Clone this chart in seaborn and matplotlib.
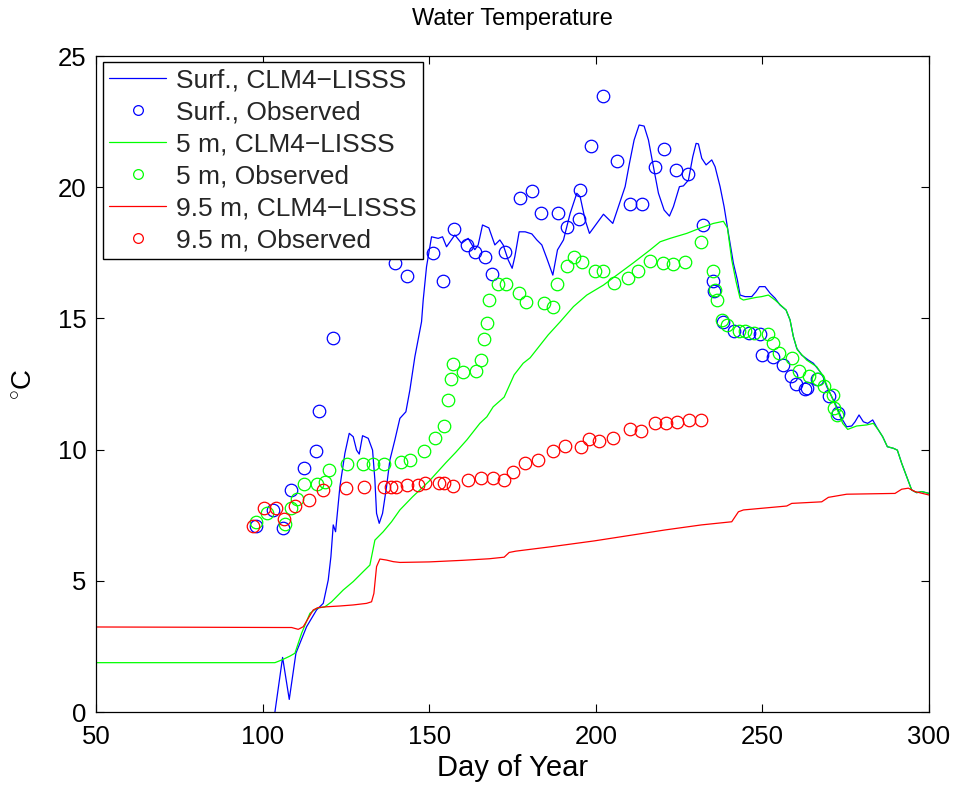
import matplotlib
matplotlib.use("Agg")
import matplotlib.pyplot as plt
import seaborn as sns
import pandas as pd

# ---------------- data ----------------
# Surface, model (CLM4-LISSS)
surf_mod_day = [103, 103.7, 106, 108, 110, 113.2, 116.2, 118.2, 119.7, 120.5, 121.2, 121.9,
                123.2, 124.7, 126, 127.2, 128.2, 129, 130, 131.7, 133, 133.7, 134.2, 135, 136,
                137.2, 138.2, 139.7, 141.2, 143, 144.2, 145.7, 147.7, 148.2, 149.2, 150.7,
                152.7, 154, 155.2, 157.7, 159.7, 161.7, 163.7, 164.7, 166, 167.9, 169.7,
                171.2, 172.2, 173.7, 174.9, 175.7, 177, 178.8, 180.8, 182.3, 183.8, 185.3,
                187.1, 188.5, 190.3, 192.3, 194.3, 195.3, 196.8, 198.1, 200.3, 202.3, 205.1,
                206.8, 208.8, 210.1, 211.5, 213, 214.5, 215.8, 217.1, 218.8, 220.5, 222.1,
                223.3, 225.1, 226.3, 227.8, 229.1, 230.1, 230.8, 231.8, 233.1, 234.8, 235.8,
                237.3, 238.5, 239.8, 241.3, 242.5, 243.3, 244.8, 246.8, 248.1, 249.1, 250.8,
                252.3, 253.8, 255.3, 257.1, 258.3, 259.3, 260.3, 261.8, 263.8, 265.3, 267.3,
                268.3, 269.3, 270.8, 272.3, 273.8, 275.3, 276.8, 277.8, 279, 280.3, 281.6,
                283.1, 284.5, 286.1, 287.5, 289.3, 290.5, 291.8, 293.3, 294.8, 296.3, 297.8,
                300]
surf_mod_temp = [-1.0, 0.0, 2.08, 0.48, 2.24, 3.25, 3.89, 4.14, 5.03, 5.92, 7.13, 6.87,
                 8.59, 9.86, 10.62, 10.49, 9.98, 9.83, 10.53, 10.43, 9.98, 8.84, 7.57, 7.19, 7.57,
                 8.59, 9.6, 10.37, 11.19, 11.44, 12.27, 13.54, 14.87, 15.7, 16.97, 18.11,
                 18.05, 18.11, 17.73, 18.18, 17.86, 18.05, 17.62, 17.8, 18.56, 18.45, 17.8,
                 17.99, 17.8, 17.23, 16.91, 17.35, 18.3, 18.3, 18.22, 17.99, 17.8, 17.29,
                 16.65, 17.61, 17.99, 19.0, 19.77, 19.64, 18.75, 18.24, 18.62, 18.97, 18.62,
                 19.26, 20.02, 20.91, 21.8, 22.37, 22.33, 21.8, 20.91, 19.77, 19.13, 18.9,
                 19.26, 20.02, 20.05, 20.27, 21.16, 21.67, 21.65, 21.1, 20.85, 21.04, 20.78,
                 20.02, 19.26, 18.24, 17.1, 16.46, 15.89, 15.83, 15.83, 16.02, 16.21, 16.21,
                 15.96, 15.77, 15.51, 15.32, 14.94, 14.3, 13.86, 13.6, 13.41, 13.29, 12.97,
                 12.78, 12.4, 12.02, 11.63, 11.19, 10.87, 10.9, 11.06, 11.32, 11.06, 11.0,
                 11.13, 10.81, 10.49, 10.11, 10.05, 9.98, 9.48, 8.97, 8.46, 8.36, 8.4,
                 8.33]

# Surface, observed
surf_obs_day = [98, 103, 106, 108.5, 112.4, 115.9, 116.8, 121.2, 139.7, 143.2, 151.2, 154.2,
                157.5, 161.2, 163.7, 166.6, 168.8, 172.8, 177.3, 180.9, 183.6, 188.8, 191.3,
                195, 195.3, 198.5, 202.1, 206.3, 210.3, 213.9, 217.8, 220.6, 224, 227.6,
                232.2, 235.1, 235.5, 238.1, 241.5, 246.1, 249.3, 249.8, 253.1, 256.3, 258.5,
                260.1, 262.8, 263.5, 266.3, 270.1, 272.8]
surf_obs_temp = [7.09, 7.7, 7.02, 8.46, 9.31, 9.96, 11.46, 14.26, 17.12, 16.6, 17.48, 16.44,
                 18.39, 17.8, 17.52, 17.33, 16.68, 17.54, 19.6, 19.87, 19.0, 19.0, 18.49,
                 18.8, 19.89, 21.57, 23.46, 20.98, 19.35, 19.35, 20.78, 21.44, 20.66, 20.51,
                 18.57, 16.43, 16.06, 14.87, 14.53, 14.46, 14.39, 13.62, 13.54, 13.22, 12.8,
                 12.5, 12.3, 12.36, 12.69, 12.04, 11.38]

# 5 m, model
m5_mod_day = [50, 80, 103.7, 105.7, 108.2, 109.7, 111.7, 114.2, 116.2, 118.7, 120.7, 124.2,
              127.2, 130.2, 132.2, 133.7, 136.2, 138.7, 141.2, 145, 150, 155, 158, 161.3,
              165.2, 167.3, 169.2, 172.5, 175.5, 178.2, 180.3, 185.7, 189.3, 193.3, 197.3,
              202.3, 206.3, 211.3, 216.3, 219.3, 222.3, 227.3, 231.5, 235.3, 238.3, 239.5,
              240.8, 242.1, 243.3, 244.3, 248.1, 249.8, 251.8, 253.8, 257.1, 258.3, 259.3,
              260.5, 263.3, 266.3, 268.3, 270.3, 272.3, 274.1, 275.6, 278.3, 281.3, 283.3,
              284.8, 286.1, 287.5, 289.3, 290.5, 291.8, 293.3, 294.8, 296.3, 297.8, 300]
m5_mod_temp = [1.88, 1.88, 1.88, 1.98, 2.13, 2.24, 3.0, 3.76, 3.95, 4.01, 4.2, 4.65,
               4.97, 5.35, 5.6, 6.55, 6.87, 7.25, 7.7, 8.2, 8.8, 9.5, 9.9, 10.37,
               11.0, 11.25, 11.63, 12.0, 12.85, 13.29, 13.5, 14.37, 14.87, 15.45, 15.89,
               16.27, 16.65, 17.12, 17.61, 17.92, 18.05, 18.24, 18.45, 18.62, 18.7, 18.45,
               17.23, 16.4, 15.77, 15.7, 15.8, 15.83, 15.89, 15.7, 15.32, 14.94, 14.3,
               13.8, 13.41, 13.16, 12.78, 12.15, 11.57, 11.0, 10.77, 10.9, 10.94, 11.0,
               10.75, 10.49, 10.11, 10.05, 9.98, 9.48, 8.97, 8.46, 8.36, 8.4, 8.33]

# 5 m, observed
m5_obs_day = [98, 101.2, 106.7, 108.4, 110.2, 112.5, 116.2, 118.7, 119.9, 125.4, 130, 133,
              136.3, 141.5, 144.3, 148.3, 151.6, 154.3, 155.6, 156.5, 157.2, 160.2, 163.9,
              165.4, 166.4, 167.2, 168, 170.6, 173.1, 176.9, 179.2, 184.4, 187.2, 188.3,
              191.3, 193.5, 195.8, 199.8, 202.3, 205.6, 209.8, 212.6, 216.3, 220.3, 223.3,
              226.8, 231.5, 235.1, 235.8, 236.3, 238, 239.3, 243.1, 244.8, 247.5, 251.8,
              253.3, 255, 258.8, 261.1, 264, 266.6, 268.6, 271.1, 271.5, 272.5]
m5_obs_temp = [7.25, 7.57, 7.16, 7.76, 8.12, 8.68, 8.69, 8.78, 9.22, 9.45, 9.45, 9.45,
               9.45, 9.54, 9.6, 9.95, 10.46, 10.91, 11.89, 12.68, 13.26, 12.94, 13.0,
               13.41, 14.2, 14.84, 15.7, 16.3, 16.3, 15.95, 15.64, 15.58, 15.45, 16.3,
               17.01, 17.35, 17.16, 16.82, 16.82, 16.36, 16.55, 16.82, 17.2, 17.1, 17.08,
               17.15, 17.92, 16.82, 16.1, 15.7, 14.94, 14.75, 14.52, 14.52, 14.43, 14.41,
               14.05, 13.67, 13.48, 13.0, 12.8, 12.68, 12.42, 12.08, 11.57, 11.32]

# 9.5 m, model
m95_mod_day = [50, 80, 106.2, 108.7, 110.7, 112.2, 113.7, 115.2, 116.7, 119.2, 123.2, 127.2,
               131.2, 132.7, 133.4, 134.2, 135.2, 137.2, 139.2, 141.2, 150, 160, 168, 172.5,
               174, 176, 186.7, 199.5, 210.2, 220.9, 231.7, 240.8, 242.8, 244.3, 257.3,
               258.8, 267.8, 269.8, 275.3, 289.8, 291.8, 293.8, 295.8, 300]
m95_mod_temp = [3.24, 3.23, 3.22, 3.22, 3.15, 3.25, 3.57, 3.89, 3.98, 4.01, 4.04, 4.08,
                4.14, 4.2, 4.52, 5.54, 5.83, 5.79, 5.73, 5.7, 5.72, 5.78, 5.84, 5.9,
                6.08, 6.13, 6.3, 6.52, 6.73, 6.94, 7.13, 7.25, 7.63, 7.7, 7.85,
                7.95, 8.01, 8.18, 8.3, 8.33, 8.49, 8.53, 8.4, 8.27]

# 9.5 m, observed
m95_obs_day = [97.2, 100.4, 103.9, 106.5, 109.7, 113.9, 118, 125, 130.4, 136.3, 138.4, 140,
               143.3, 146.5, 148.6, 152.9, 154.5, 157.2, 161.5, 165.5, 169, 172.5, 175.2,
               178.7, 182.7, 187.3, 190.9, 195.6, 197.9, 201.1, 205.1, 210.2, 213.7, 217.7,
               221, 224.4, 227.9, 231.5]
m95_obs_temp = [7.09, 7.76, 7.76, 7.34, 7.85, 8.08, 8.46, 8.52, 8.59, 8.59, 8.59, 8.59,
                8.65, 8.65, 8.72, 8.72, 8.72, 8.62, 8.84, 8.91, 8.91, 8.84, 9.16,
                9.48, 9.6, 9.95, 10.14, 10.11, 10.4, 10.33, 10.45, 10.79, 10.71, 11.0,
                11.0, 11.06, 11.13, 11.13]

labels = ["Surf., CLM4\u2212LISSS", "Surf., Observed",
          "5 m, CLM4\u2212LISSS", "5 m, Observed",
          "9.5 m, CLM4\u2212LISSS", "9.5 m, Observed"]
x_ticks = [50, 100, 150, 200, 250, 300]
y_ticks = [0, 5, 10, 15, 20, 25]

# ---------------- plot ----------------
sns.set_theme(style="white")
plt.rcParams['font.family'] = ['Liberation Sans', 'DejaVu Sans']
plt.rcParams['mathtext.fontset'] = 'custom'
plt.rcParams['mathtext.rm'] = 'Liberation Sans'

fig = plt.figure(figsize=(9.6, 7.85), dpi=100)
ax = fig.add_axes([96 / 960, 73 / 785, 833 / 960, 656 / 785])

series = [
    (surf_mod_day, surf_mod_temp, "#0000ff", True),
    (surf_obs_day, surf_obs_temp, "#0000ff", False),
    (m5_mod_day, m5_mod_temp, "#00ff00", True),
    (m5_obs_day, m5_obs_temp, "#00ff00", False),
    (m95_mod_day, m95_mod_temp, "#ff0000", True),
    (m95_obs_day, m95_obs_temp, "#ff0000", False),
]

for (d, t, c, is_line), lab in zip(series, labels):
    df = pd.DataFrame({"day": d, "temp": t})
    if is_line:
        sns.lineplot(data=df, x="day", y="temp", ax=ax, color=c, lw=0.9,
                     estimator=None, sort=False, label=lab)
    else:
        sns.lineplot(data=df, x="day", y="temp", ax=ax, color=c, linestyle="none",
                     marker="o", markersize=9, markerfacecolor="none",
                     markeredgecolor=c, markeredgewidth=0.9,
                     estimator=None, sort=False, label=lab)

ax.set_xlim(50, 300)
ax.set_ylim(0, 25)
ax.set_xticks(x_ticks)
ax.set_yticks(y_ticks)
ax.tick_params(direction="in", length=6, width=0.8, color="black",
               top=True, right=True, bottom=True, left=True,
               labelsize=18.5, labelcolor="black")
ax.tick_params(axis="x", pad=9)
ax.tick_params(axis="y", pad=7)
for s in ax.spines.values():
    s.set_visible(True)
    s.set_color("black")
    s.set_linewidth(0.9)

ax.set_title("Water Temperature", fontsize=17, pad=22, color="black")
ax.set_xlabel("Day of Year", fontsize=21, labelpad=4, color="black")
ax.set_ylabel(r"$^{\circ}$C", fontsize=20, labelpad=14, color="black")

leg = ax.legend(loc="upper left", bbox_to_anchor=(0.008, 0.991), fontsize=19,
                frameon=True, fancybox=False, shadow=False, framealpha=1,
                edgecolor="black", handlelength=2.15, handletextpad=0.38,
                labelspacing=0.3, borderpad=0.25, borderaxespad=0.0)
leg.get_frame().set_linewidth(1.0)
for h in leg.get_lines():
    if h.get_marker() == "o":
        h.set_markersize(7)

fig.savefig("out.png", dpi=100, facecolor="white")
